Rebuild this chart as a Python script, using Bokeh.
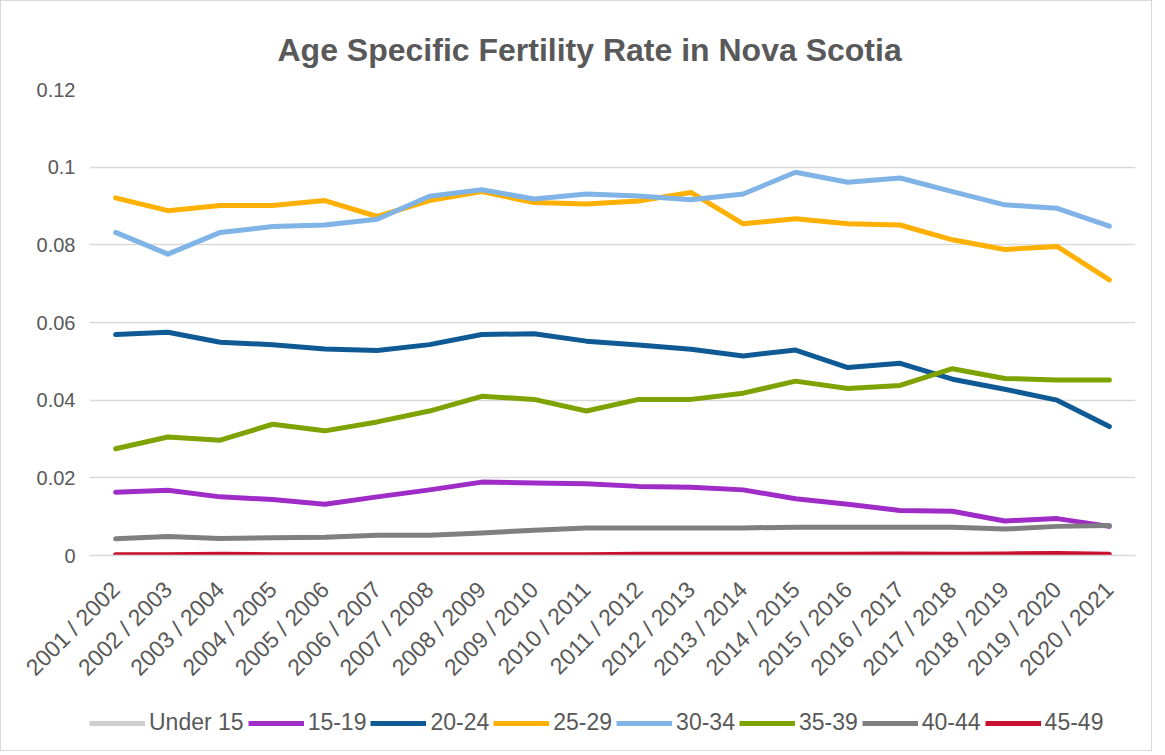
import math
from bokeh.plotting import figure
from bokeh.layouts import column
from bokeh.models import (FactorRange, Range1d, FixedTicker, CustomJSTickFormatter,
                          Legend, LegendItem)
from bokeh.embed import file_html
from bokeh.resources import INLINE

periods = ["2001 / 2002", "2002 / 2003", "2003 / 2004", "2004 / 2005", "2005 / 2006",
           "2006 / 2007", "2007 / 2008", "2008 / 2009", "2009 / 2010", "2010 / 2011",
           "2011 / 2012", "2012 / 2013", "2013 / 2014", "2014 / 2015", "2015 / 2016",
           "2016 / 2017", "2017 / 2018", "2018 / 2019", "2019 / 2020", "2020 / 2021"]

under_15 = [0.0001, 0.0001, 0.0001, 0.0001, 0.0001, 0.0001, 0.0001, 0.0001, 0.0001, 0.0001,
            0.0001, 0.0001, 0.0001, 0.0001, 0.0001, 0.0001, 0.0001, 0.0001, 0.0001, 0.0001]
age_15_19 = [0.0163, 0.0168, 0.0151, 0.0144, 0.0132, 0.0151, 0.0169, 0.0189, 0.0187, 0.0185,
             0.0178, 0.0176, 0.0169, 0.0146, 0.0132, 0.0116, 0.0114, 0.0089, 0.0095, 0.0075]
age_20_24 = [0.0569, 0.0575, 0.0549, 0.0543, 0.0532, 0.0528, 0.0543, 0.0569, 0.0571, 0.0552,
             0.0542, 0.0531, 0.0514, 0.0529, 0.0484, 0.0495, 0.0454, 0.0428, 0.0400, 0.0332]
age_25_29 = [0.0921, 0.0888, 0.0901, 0.0901, 0.0914, 0.0873, 0.0914, 0.0937, 0.0909, 0.0905,
             0.0913, 0.0935, 0.0854, 0.0867, 0.0854, 0.0851, 0.0813, 0.0788, 0.0796, 0.0710]
age_30_34 = [0.0832, 0.0776, 0.0832, 0.0847, 0.0851, 0.0866, 0.0925, 0.0942, 0.0918, 0.0931,
             0.0926, 0.0916, 0.0931, 0.0987, 0.0961, 0.0972, 0.0937, 0.0903, 0.0894, 0.0848]
age_35_39 = [0.0275, 0.0305, 0.0297, 0.0338, 0.0321, 0.0344, 0.0372, 0.0410, 0.0402, 0.0372,
             0.0402, 0.0402, 0.0418, 0.0449, 0.0430, 0.0438, 0.0481, 0.0456, 0.0452, 0.0452]
age_40_44 = [0.0043, 0.0049, 0.0044, 0.0046, 0.0047, 0.0052, 0.0052, 0.0058, 0.0065, 0.0071,
             0.0071, 0.0071, 0.0071, 0.0073, 0.0073, 0.0073, 0.0073, 0.0068, 0.0075, 0.0077]
age_45_49 = [0.0002, 0.0002, 0.0003, 0.0002, 0.0002, 0.0002, 0.0002, 0.0002, 0.0002, 0.0002,
             0.0003, 0.0003, 0.0003, 0.0003, 0.0003, 0.0004, 0.0003, 0.0004, 0.0005, 0.0003]

series_names = ["Under 15", "15-19", "20-24", "25-29", "30-34", "35-39", "40-44", "45-49"]
series_values = [under_15, age_15_19, age_20_24, age_25_29, age_30_34, age_35_39, age_40_44, age_45_49]
series_colors = ["#CFCFCF", "#A02CC8", "#0F5A94", "#FFB000", "#80B3E6", "#7EA300", "#7F7F7F", "#C8102E"]
y_ticks = [0, 0.02, 0.04, 0.06, 0.08, 0.1, 0.12]

FONT = "Liberation Sans"
TXT = "#595959"

p = figure(x_range=FactorRange(*periods, range_padding=0), y_range=Range1d(0, 0.12),
           frame_width=1046, frame_height=466, output_backend="svg", toolbar_location=None,
           min_border_left=88, min_border_right=16, min_border_top=88, min_border_bottom=136,
           title="Age Specific Fertility Rate in Nova Scotia")

p.title.align = "left"
p.title.offset = 188
p.title.text_font = FONT
p.title.text_font_size = "32px"
p.title.text_font_style = "bold"
p.title.text_color = TXT
p.title.standoff = 44

p.outline_line_color = None
p.xgrid.grid_line_color = None
p.ygrid.grid_line_color = "#D9D9D9"
p.ygrid.grid_line_width = 1.5

p.yaxis.ticker = FixedTicker(ticks=y_ticks)
p.yaxis.formatter = CustomJSTickFormatter(
    code="return tick.toFixed(2).replace(/0+$/, '').replace(/\\.$/, '');")
p.yaxis.axis_line_color = None
p.yaxis.major_tick_line_color = None
p.yaxis.minor_tick_line_color = None
p.yaxis.major_label_text_font = FONT
p.yaxis.major_label_text_font_size = "20px"
p.yaxis.major_label_text_color = TXT
p.yaxis.major_label_standoff = 8

p.xaxis.axis_line_color = "#D9D9D9"
p.xaxis.axis_line_width = 1.5
p.xaxis.major_tick_line_color = None
p.xaxis.minor_tick_line_color = None
p.xaxis.major_label_orientation = math.pi / 4
p.xaxis.major_label_text_font = FONT
p.xaxis.major_label_text_font_size = "23px"
p.xaxis.major_label_text_color = TXT
p.xaxis.major_label_standoff = 24

for vals, col in zip(series_values, series_colors):
    p.line(x=periods, y=vals, line_color=col, line_width=5,
           line_join="round", line_cap="round")

# legend strip below the chart (its series lie outside its visible y range)
pl = figure(width=1150, height=58, output_backend="svg", toolbar_location=None,
            min_border=0, x_axis_location=None, y_axis_location=None,
            x_range=FactorRange(*periods, range_padding=0), y_range=Range1d(1, 2))
pl.grid.visible = False
pl.outline_line_color = None
items = []
for name, vals, col in zip(series_names, series_values, series_colors):
    r = pl.line(x=periods, y=vals, line_color=col, line_width=5)
    items.append(LegendItem(label=name, renderers=[r]))
legend = Legend(items=items, orientation="horizontal", location=(0, 14),
                label_text_font=FONT, label_text_font_size="23px", label_text_color=TXT,
                glyph_width=56, glyph_height=24, label_standoff=4, spacing=4,
                padding=0, margin=0, border_line_color=None, background_fill_alpha=0)
pl.add_layout(legend, "center")

layout = column(p, pl, spacing=0, styles={"border": "1px solid #D9D9D9"})

open("out.html", "w").write(file_html(layout, INLINE))
